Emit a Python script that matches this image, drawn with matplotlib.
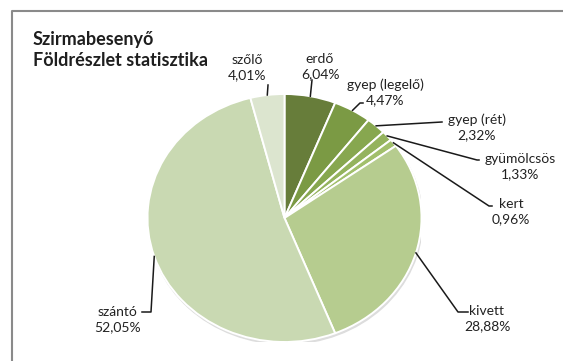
import numpy as np
import matplotlib.pyplot as plt
from matplotlib.lines import Line2D
from matplotlib.patches import Ellipse

# Data
labels = ['erdő', 'gyep (legelő)', 'gyep (rét)', 'gyümölcsös', 'kert', 'kivett', 'szántó', 'szőlő']
pct_text = ['6,04%', '4,47%', '2,32%', '1,33%', '0,96%', '28,88%', '52,05%', '4,01%']
values = [6.04, 4.47, 2.32, 1.33, 0.96, 28.88, 52.05, 4.01]
colors = ['#677d3a', '#7b9a44', '#87a74f', '#94b35d', '#a2bf6c', '#b6cc8f', '#c9d9b2', '#dce5cf']

plt.rcParams['font.family'] = ['Lato', 'DejaVu Sans']

W, H = 563, 361
fig = plt.figure(figsize=(W / 100, H / 100), dpi=100)

# pie is a bit wider than tall in the reference
cx, cy, rx, ry = 284.5, 218, 137, 124
ax = fig.add_axes([(cx - rx) / W, (H - cy - ry) / H, 2 * rx / W, 2 * ry / H])
ax.add_patch(Ellipse((0.008, -0.018), 2.0, 2.0, color='#dddddd', zorder=0))
wedges, _ = ax.pie(values, colors=colors, startangle=90, counterclock=False,
                   wedgeprops=dict(edgecolor='white', linewidth=1.4))
ax.set_aspect('auto')
ax.set_xlim(-1, 1)
ax.set_ylim(-1, 1)
ax.axis('off')


def px(x, y):
    # pixel position (top-left origin) -> figure fraction
    return x / W, 1 - y / H


def edge_px(w):
    ang = np.deg2rad((w.theta1 + w.theta2) / 2)
    dx, dy = ax.transData.transform((np.cos(ang), np.sin(ang)))
    return dx, H - dy


# leader elbows and label positions (pixels)
leaders = {
    'erdő': [(312, 80)],
    'gyep (legelő)': [(360, 103), (363, 103)],
    'gyep (rét)': [(442, 122)],
    'gyümölcsös': [(477, 160), (479, 160)],
    'kert': [(489, 206), (492, 206)],
    'kivett': [(458, 312), (468, 312)],
    'szántó': [(151, 312), (142, 312)],
    'szőlő': [(268, 85)],
}
text_pos = {
    'erdő': (320, 59),
    'gyep (legelő)': (385, 85),
    'gyep (rét)': (477, 120),
    'gyümölcsös': (520, 159),
    'kert': (511, 204),
    'kivett': (487, 311),
    'szántó': (118, 312),
    'szőlő': (247, 60),
}

for w, lab, pct in zip(wedges, labels, pct_text):
    pts = [edge_px(w)] + leaders[lab]
    xs = [p[0] / W for p in pts]
    ys = [1 - p[1] / H for p in pts]
    fig.add_artist(Line2D(xs, ys, color='#1a1a1a', lw=1.1, transform=fig.transFigure))
    tx, ty = text_pos[lab]
    fig.text(*px(tx, ty), lab, ha='center', va='center', fontsize=10, color='#222222')
    fig.text(*px(tx, ty + 15), pct, ha='center', va='center', fontsize=10, color='#222222')

# title
fig.text(*px(33, 39), 'Szirmabesenyő', ha='left', va='center', fontsize=13,
         fontweight='bold', color='#1e1e1e')
fig.text(*px(33, 61), 'Földrészlet statisztika', ha='left', va='center', fontsize=13,
         fontweight='bold', color='#1e1e1e')

# chart frame (cut off at right and bottom)
fig.add_artist(Line2D([12 / W, 12 / W, 1], [0, 1 - 11 / H, 1 - 11 / H],
                      color='#8a8a8a', lw=1.5, transform=fig.transFigure))

fig.savefig('out.png', dpi=100)
